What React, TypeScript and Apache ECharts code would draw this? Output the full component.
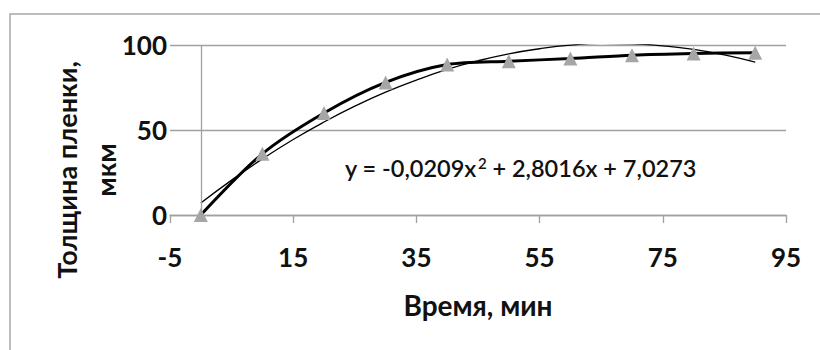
import React, { useEffect, useRef } from "react";
import * as echarts from "echarts";

const timeMin = [0, 10, 20, 30, 40, 50, 60, 70, 80, 90];
const thickness = [0, 36, 60, 78, 88.5, 90.5, 92, 94, 95, 95.5];
const trendTime = [0, 5, 10, 15, 20, 25, 30, 35, 40, 45, 50, 55, 60, 65, 70, 75, 80, 85, 90];
const trendValues = [7, 20.5, 33, 44.4, 54.7, 64, 72.3, 79.4, 85.6, 90.7, 94.8, 97.8, 99.9, 100.9, 100.7, 99.5, 97.4, 94.2, 89.9];
const xTicks = [-5, 15, 35, 55, 75, 95];
const xTitle = "Время, мин";
const yTitle = "Толщина пленки,\nмкм";
const equationA = "y = -0,0209x";
const equationSup = "2";
const equationB = " + 2,8016x + 7,0273";

const FONT = "Lato, 'Open Sans', sans-serif";

export default function App() {
  const ref = useRef<HTMLDivElement>(null);
  useEffect(() => {
    if (!ref.current) return;
    const chart = echarts.init(ref.current, undefined, { renderer: "svg" });
    chart.setOption({
      animation: false,
      backgroundColor: "#fff",
      textStyle: { fontFamily: FONT },
      grid: { left: 170, right: 34, top: 45, bottom: 135, containLabel: false },
      xAxis: {
        type: "value",
        min: -5,
        max: 95,
        axisLine: { show: true, onZero: false, lineStyle: { color: "#a0a0a0", width: 1.3 } },
        axisTick: { show: true, customValues: xTicks, length: 8, lineStyle: { color: "#a0a0a0", width: 1.3 } },
        axisLabel: {
          customValues: xTicks,
          margin: 29,
          color: "#111",
          fontFamily: FONT,
          fontWeight: "bold",
          fontSize: 26,
        },
        splitLine: { show: false },
        name: xTitle,
        nameLocation: "middle",
        nameGap: 76,
        nameTextStyle: { color: "#111", fontFamily: FONT, fontWeight: "bold", fontSize: 28 },
      },
      yAxis: {
        type: "value",
        min: 0,
        max: 100,
        interval: 50,
        axisLine: { show: false },
        axisTick: { show: false },
        axisLabel: { margin: 3, color: "#111", fontFamily: FONT, fontWeight: "bold", fontSize: 26 },
        splitLine: { show: true, lineStyle: { color: "#a0a0a0", width: 1.3 } },
      },
      graphic: [
        {
          type: "rect",
          shape: { x: 10, y: 14, width: 840, height: 400 },
          style: { fill: "none", stroke: "#a8a8a8", lineWidth: 1.5 },
          silent: true,
        },
        {
          type: "text",
          x: 86,
          y: 170,
          rotation: Math.PI / 2,
          style: {
            text: yTitle,
            fill: "#111",
            font: `bold 27px ${FONT}`,
            align: "center",
            verticalAlign: "middle",
            lineHeight: 39,
          },
        },
        {
          type: "text",
          x: 345,
          y: 168,
          style: {
            text: `{a|${equationA}}{s|${equationSup}}{a|${equationB}}`,
            verticalAlign: "middle",
            align: "left",
            fill: "#111",
            rich: {
              a: { fontSize: 23.5, fontFamily: FONT, fill: "#111", fontWeight: 600 },
              s: { fontSize: 15, fontFamily: FONT, fill: "#111", fontWeight: 600, padding: [0, 0, 11, 1] },
            },
          },
        },
      ],
      series: [
        {
          type: "line",
          data: trendTime.map((t, i) => [t, trendValues[i]]),
          smooth: true,
          showSymbol: false,
          symbol: "none",
          lineStyle: { color: "#000", width: 1.3 },
          z: 2,
          markLine: {
            silent: true,
            symbol: "none",
            label: { show: false },
            lineStyle: { color: "#a0a0a0", width: 1.3, type: "solid" },
            data: [{ xAxis: 0 }],
          },
        },
        {
          type: "line",
          data: timeMin.map((t, i) => [t, thickness[i]]),
          smooth: 0.3,
          symbol: "triangle",
          symbolSize: 14,
          itemStyle: { color: "#a6a6a6" },
          lineStyle: { color: "#000", width: 3 },
          z: 3,
        },
      ],
    });
    return () => chart.dispose();
  }, []);
  return (
    <div
      ref={ref}
      style={{ position: "absolute", left: 0, top: 0, width: 820, height: 350, background: "#fff" }}
    />
  );
}
